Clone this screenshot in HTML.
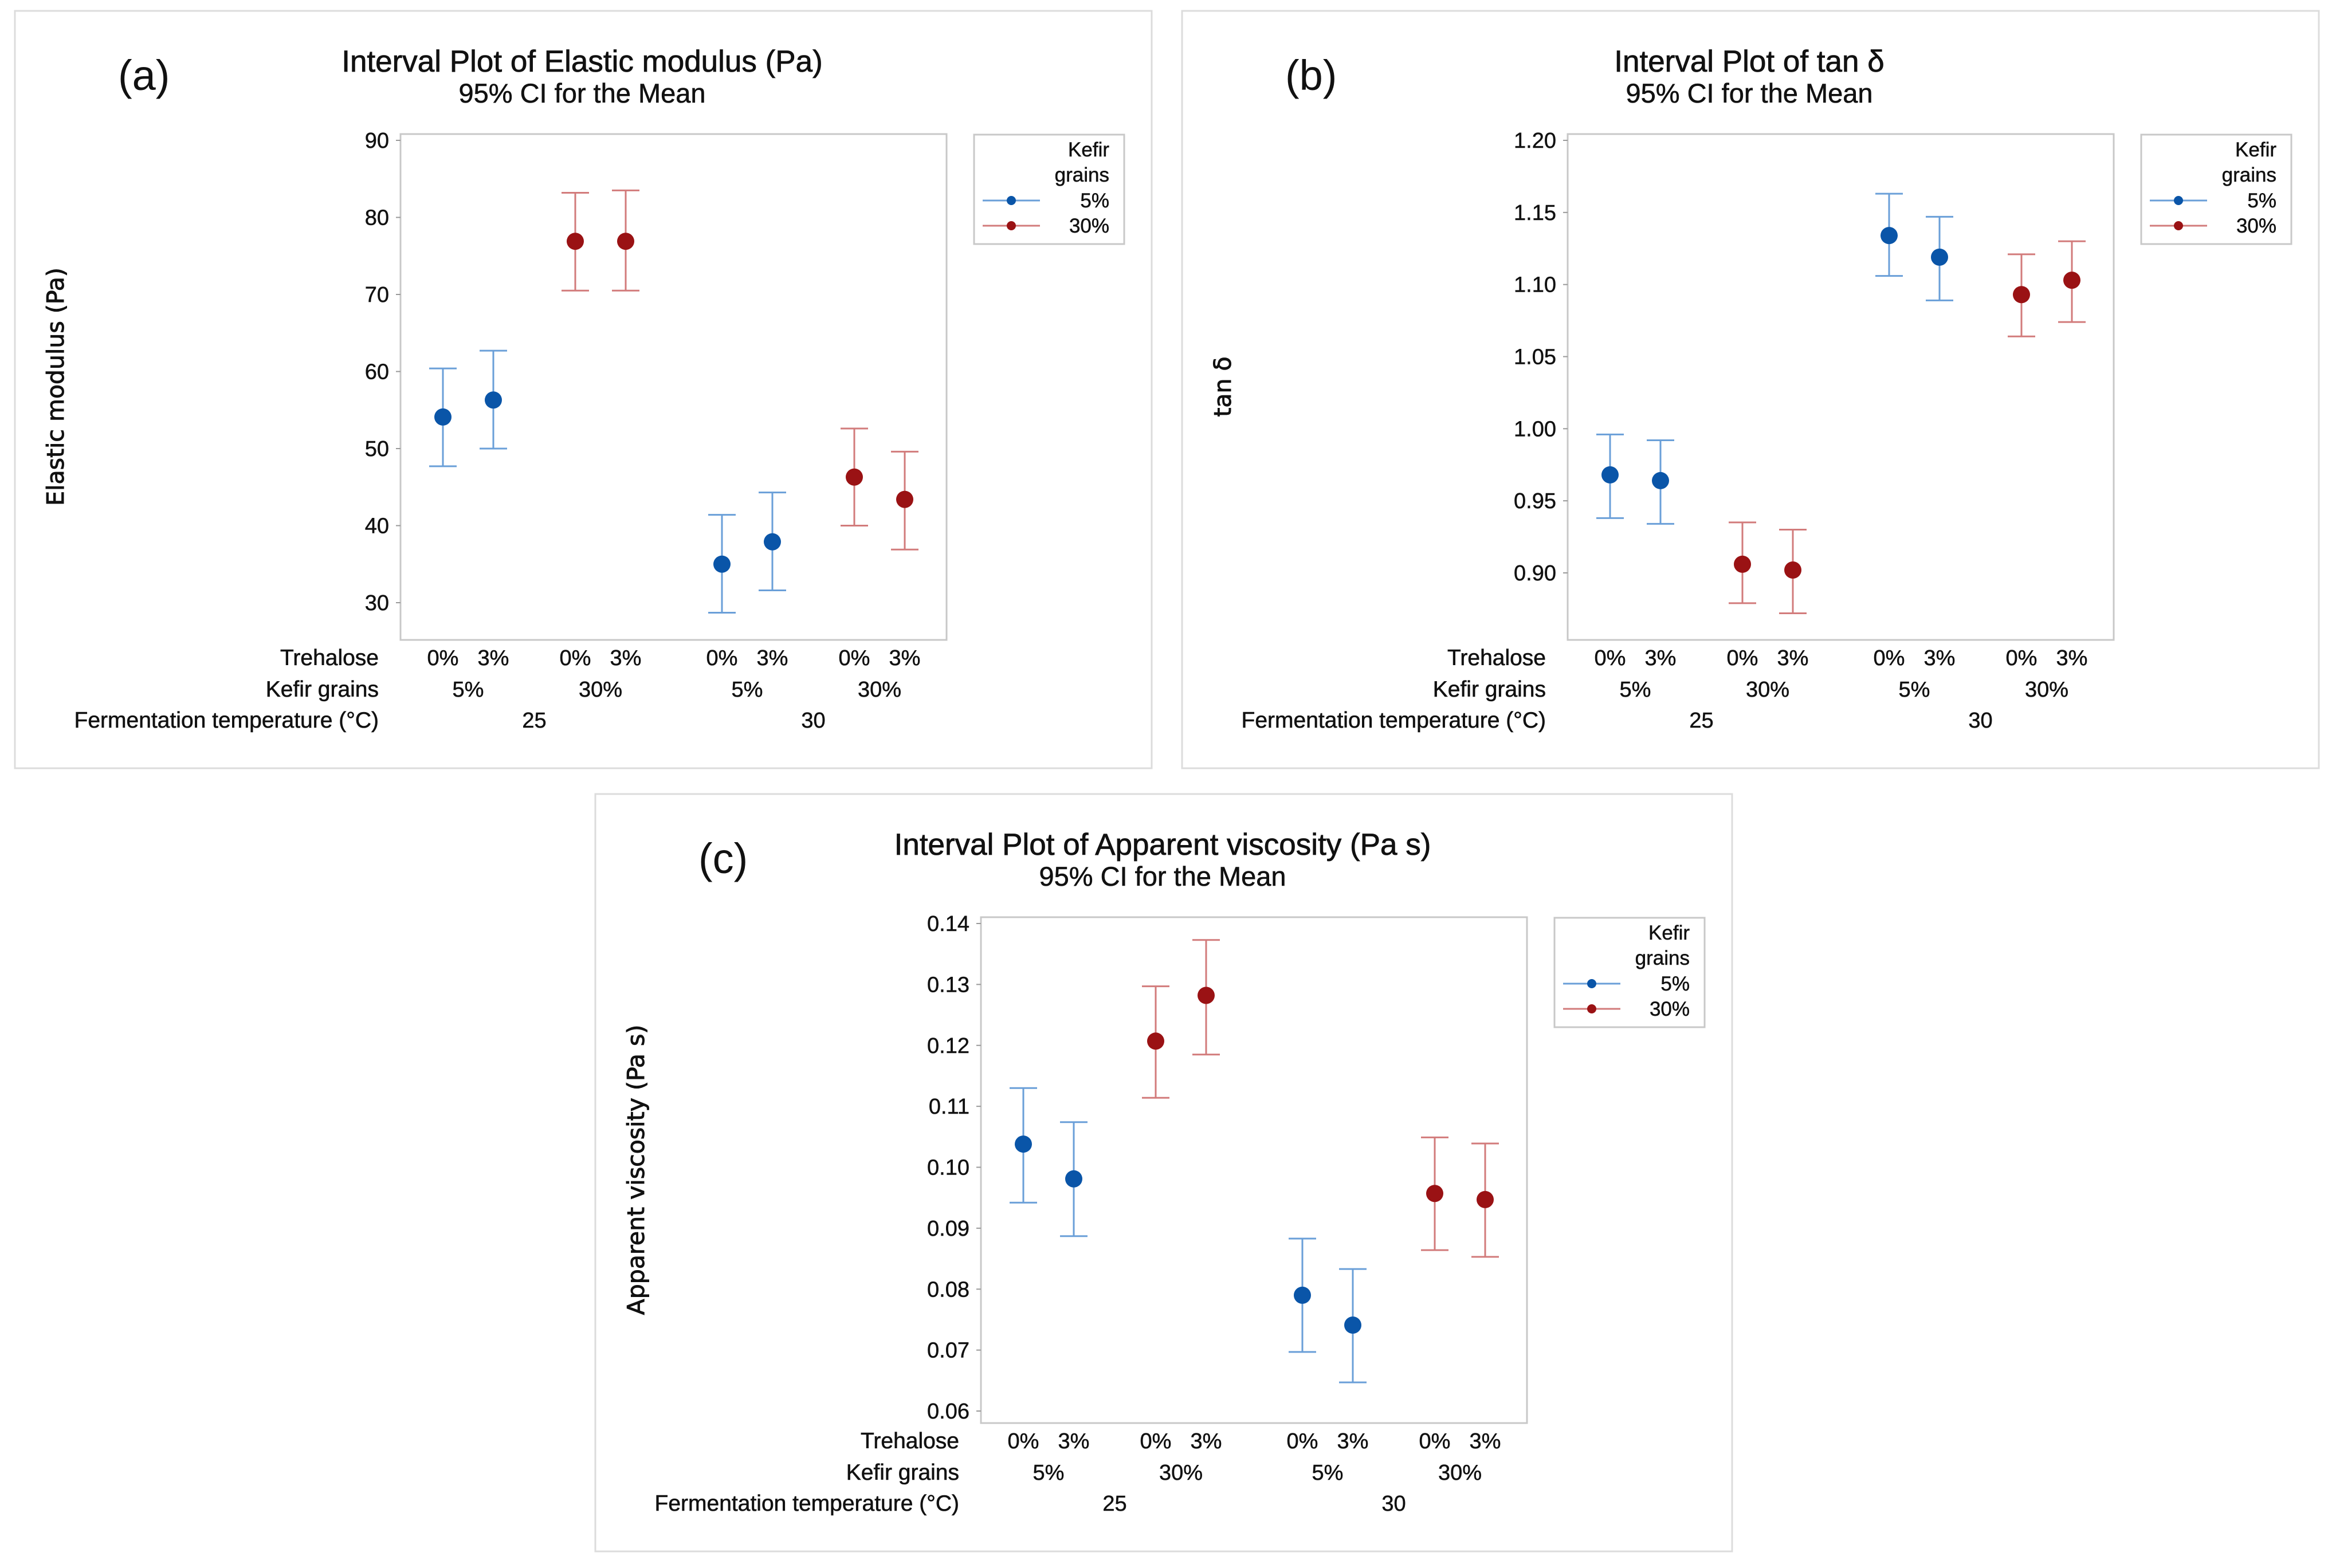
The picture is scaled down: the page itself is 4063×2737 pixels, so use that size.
<!DOCTYPE html>
<html><head><meta charset="utf-8"><style>
html,body{margin:0;padding:0;background:#fff;}
svg text{font-family:"Liberation Sans",sans-serif;fill:#111;}
</style></head><body>
<svg id="fig" width="4063" height="2732" viewBox="0 0 4063 2732" xmlns="http://www.w3.org/2000/svg">
<rect x="0" y="0" width="4063" height="2732" fill="#fff"/>
</svg>
<script>
// shared categories
const trehaloseLabels = ["0%","3%","0%","3%","0%","3%","0%","3%"];
const kefirLabels = ["5%","30%","5%","30%"];
const tempLabels = ["25","30"];
const seriesGroup = [0,0,1,1,0,0,1,1]; // 0 = 5% kefir, 1 = 30% kefir

// panel (a) elastic modulus
const aMeans = [54.1,56.3,76.9,76.9,35.0,37.9,46.3,43.4];
const aLower = [47.7,50.0,70.5,70.5,28.7,31.6,40.0,36.9];
const aUpper = [60.4,62.7,83.2,83.5,41.4,44.3,52.6,49.6];
const aTicks = [30,40,50,60,70,80,90];
const aTickLabels = ["30","40","50","60","70","80","90"];

// panel (b) tan delta
const bMeans = [0.968,0.964,0.906,0.902,1.134,1.119,1.093,1.103];
const bLower = [0.938,0.934,0.879,0.872,1.106,1.089,1.064,1.074];
const bUpper = [0.996,0.992,0.935,0.930,1.163,1.147,1.121,1.130];
const bTicks = [0.90,0.95,1.00,1.05,1.10,1.15,1.20];
const bTickLabels = ["0.90","0.95","1.00","1.05","1.10","1.15","1.20"];

// panel (c) apparent viscosity
const cMeans = [0.1038,0.0981,0.1207,0.1282,0.0790,0.0741,0.0957,0.0947];
const cLower = [0.0942,0.0887,0.1114,0.1185,0.0697,0.0647,0.0864,0.0853];
const cUpper = [0.1130,0.1074,0.1297,0.1373,0.0883,0.0833,0.1049,0.1039];
const cTicks = [0.06,0.07,0.08,0.09,0.10,0.11,0.12,0.13,0.14];
const cTickLabels = ["0.06","0.07","0.08","0.09","0.10","0.11","0.12","0.13","0.14"];

const NS = "http://www.w3.org/2000/svg";
const svg = document.getElementById("fig");
function mk(tag, attrs, parent, txt){
  const e = document.createElementNS(NS, tag);
  for (const k in attrs) e.setAttribute(k, attrs[k]);
  if (txt !== undefined) e.textContent = txt;
  parent.appendChild(e);
  return e;
}
const lineCol = ["#6a9fd8","#d27b7b"];
const dotCol = ["#0a55a8","#9a1214"];

function panel(ox, oy, key, label, title, ytitle, means, lower, upper, ticks, tickLabels, yTopPix, yBotPix){
  const g = mk("g", {transform:`translate(${ox},${oy})`}, svg);
  
  
  const box = mk("rect", {x:0,y:0,width:1984,height:1322,fill:"#fff",stroke:"#dcdcdc","stroke-width":3}, g);
  
  
  const lab = mk("text", {x:180,y:138,"font-size":74}, g, label);
  
  
  const t1 = mk("text", {x:990,y:106,"font-size":53,"text-anchor":"middle",stroke:"#111","stroke-width":0.8}, g, title);
  
  
  const t2 = mk("text", {x:990,y:160,"font-size":47,"text-anchor":"middle",stroke:"#111","stroke-width":0.6}, g, "95% CI for the Mean");
  
  
  const PL=673, PR=1626, PT=215, PB=1098;
  const pr = mk("rect", {x:PL,y:PT,width:PR-PL,height:PB-PT,fill:"none",stroke:"#c8c8c8","stroke-width":3}, g);
  
  
  const vmin = ticks[0], vmax = ticks[ticks.length-1];
  const yS = v => yBotPix + (v - vmin) / (vmax - vmin) * (yTopPix - yBotPix);
  const xS = i => PL + 74 + (i%2)*88 + (Math.floor(i/2)%2)*231 + Math.floor(i/4)*487;
  ticks.forEach((v,i)=>{
    const tk = mk("line", {x1:PL-8,x2:PL,y1:yS(v),y2:yS(v),stroke:"#999","stroke-width":2}, g);
    
    
    const tl = mk("text", {x:PL-20,y:yS(v)+13,"font-size":38,"text-anchor":"end",stroke:"#111","stroke-width":0.5}, g, tickLabels[i]);
    
    
  });
  const yt = mk("text", {x:0,y:0,"font-size":41,"text-anchor":"middle",stroke:"#111","stroke-width":1,transform:`translate(85,656) rotate(-90)`,style:'font-family:"DejaVu Sans",sans-serif'}, g, ytitle);
  
  
  // intervals
  means.forEach((m,i)=>{
    const s = seriesGroup[i];
    const x = xS(i);
    const eg = mk("g", {}, g);
    
    
    mk("line", {x1:x,x2:x,y1:yS(upper[i]),y2:yS(lower[i]),stroke:lineCol[s],"stroke-width":3}, eg);
    mk("line", {x1:x-24,x2:x+24,y1:yS(upper[i]),y2:yS(upper[i]),stroke:lineCol[s],"stroke-width":3}, eg);
    mk("line", {x1:x-24,x2:x+24,y1:yS(lower[i]),y2:yS(lower[i]),stroke:lineCol[s],"stroke-width":3}, eg);
    const d = mk("circle", {cx:x,cy:yS(m),r:15,fill:dotCol[s]}, eg);
    
    
  });
  // category labels
  const rowY = [1142,1197,1251];
  const rowNames = ["Trehalose","Kefir grains","Fermentation temperature (°C)"];
  rowNames.forEach((n,r)=>{
    const rt = mk("text", {x:PL-38,y:rowY[r],"font-size":39,"text-anchor":"end",stroke:"#111","stroke-width":0.6}, g, n);
    
    
  });
  trehaloseLabels.forEach((l,i)=>{
    const e = mk("text", {x:xS(i),y:rowY[0],"font-size":38,"text-anchor":"middle",stroke:"#111","stroke-width":0.5}, g, l);
    
    
  });
  kefirLabels.forEach((l,k)=>{
    const e = mk("text", {x:(xS(2*k)+xS(2*k+1))/2,y:rowY[1],"font-size":38,"text-anchor":"middle",stroke:"#111","stroke-width":0.5}, g, l);
    
    
  });
  tempLabels.forEach((l,k)=>{
    const e = mk("text", {x:(xS(4*k)+xS(4*k+3))/2,y:rowY[2],"font-size":38,"text-anchor":"middle",stroke:"#111","stroke-width":0.5}, g, l);
    
    
  });
  // legend
  const lg = mk("g", {}, g);
  
  
  mk("rect", {x:1674,y:216,width:262,height:191,fill:"#fff",stroke:"#c8c8c8","stroke-width":3}, lg);
  mk("text", {x:1910,y:254,"font-size":35,"text-anchor":"end",stroke:"#111","stroke-width":0.5}, lg, "Kefir");
  mk("text", {x:1910,y:298,"font-size":35,"text-anchor":"end",stroke:"#111","stroke-width":0.5}, lg, "grains");
  const legNames = ["5%","30%"];
  legNames.forEach((n,s)=>{
    const y = 331 + s*44;
    const le = mk("g", {}, lg);
    
    
    mk("line", {x1:1689,x2:1789,y1:y,y2:y,stroke:lineCol[s],"stroke-width":3}, le);
    mk("circle", {cx:1739,cy:y,r:8,fill:dotCol[s]}, le);
    mk("text", {x:1910,y:y+12,"font-size":35,"text-anchor":"end",stroke:"#111","stroke-width":0.5}, le, n);
  });
}
panel(26,19,"a","(a)","Interval Plot of Elastic modulus (Pa)","Elastic modulus (Pa)",aMeans,aLower,aUpper,aTicks,aTickLabels,226,1033);
panel(2063,19,"b","(b)","Interval Plot of tan δ","tan δ",bMeans,bLower,bUpper,bTicks,bTickLabels,226,981);
panel(1039,1386,"c","(c)","Interval Plot of Apparent viscosity (Pa s)","Apparent viscosity (Pa s)",cMeans,cLower,cUpper,cTicks,cTickLabels,226,1077);
</script>
</body></html>
